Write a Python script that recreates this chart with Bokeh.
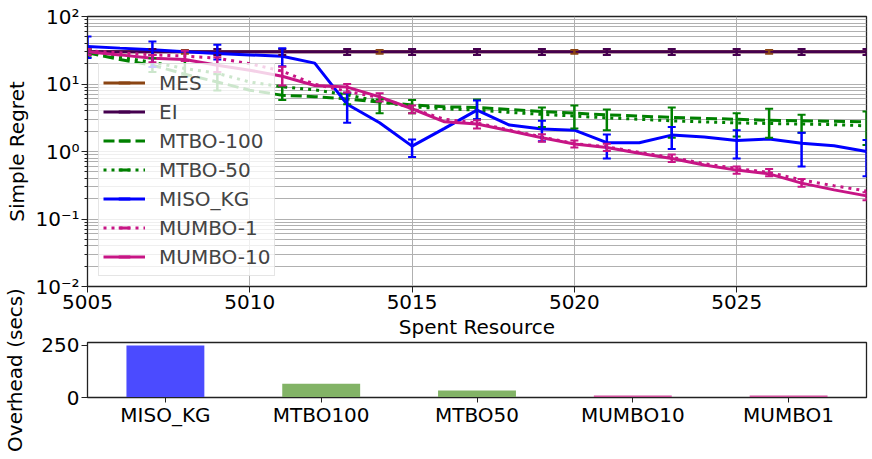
import math
from bokeh.plotting import figure
from bokeh.models import (ColumnDataSource, Whisker, TeeHead, Legend, LegendItem,
                          FixedTicker, Range1d, FactorRange)
from bokeh.layouts import column
from bokeh.embed import file_html
from bokeh.resources import INLINE

FONT = "DejaVu Sans"
FS = "20px"

# ---------------- data ----------------
steps = [5005, 5006, 5007, 5008, 5009, 5010, 5011, 5012, 5013, 5014, 5015, 5016, 5017,
         5018, 5019, 5020, 5021, 5022, 5023, 5024, 5025, 5026, 5027, 5028, 5029]

mes = [30.0, 30.0, 30.0, 30.0, 30.0, 30.0, 30.0, 30.0, 30.0, 30.0, 30.0, 30.0, 30.0,
       30.0, 30.0, 30.0, 30.0, 30.0, 30.0, 30.0, 30.0, 30.0, 30.0, 30.0, 30.0]
ei = [30.0, 30.0, 30.0, 30.0, 30.0, 30.0, 30.0, 30.0, 30.0, 30.0, 30.0, 30.0, 30.0,
      30.0, 30.0, 30.0, 30.0, 30.0, 30.0, 30.0, 30.0, 30.0, 30.0, 30.0, 30.0]
mtbo100 = [29, 23, 19, 14, 10.7, 8.1, 6.8, 6.5, 6.0, 5.4, 4.9, 4.6, 4.5,
           4.2, 3.9, 3.7, 3.5, 3.35, 3.2, 3.1, 3.0, 2.9, 2.85, 2.8, 2.75]
mtbo50 = [30, 25, 21, 17, 14.4, 10.7, 9.1, 8.2, 6.9, 5.5, 4.6, 4.3, 4.1,
          3.8, 3.55, 3.35, 3.15, 3.0, 2.85, 2.75, 2.65, 2.6, 2.55, 2.5, 2.4]
miso_kg = [36, 34, 32.3, 30, 28.3, 27, 25.7, 20.4, 5.0, 2.66, 1.2, 2.2, 4.1,
           2.46, 2.15, 2.07, 1.35, 1.35, 1.75, 1.64, 1.46, 1.53, 1.32, 1.22, 1.0]
mumbo1 = [31, 29, 27, 26, 24, 20, 15.5, 9.9, 7.8, 6.3, 4.3, 3.0, 2.65,
          2.08, 1.64, 1.31, 1.17, 0.97, 0.82, 0.66, 0.56, 0.49, 0.38, 0.31, 0.26]
mumbo10 = [30, 27, 24, 23, 19, 16, 13, 9.5, 9.0, 6.45, 4.3, 2.75, 2.55,
           2.03, 1.6, 1.29, 1.15, 0.94, 0.79, 0.63, 0.53, 0.466, 0.34, 0.27, 0.22]

odd_steps = [5005, 5007, 5009, 5011, 5013, 5015, 5017, 5019, 5021, 5023, 5025, 5027, 5029]
sixth_steps = [5008, 5014, 5020, 5026]

ei_lo = [27, 27, 27, 27, 27, 27, 27, 27, 27, 27, 27, 27, 27]
ei_hi = [33, 33, 33, 33, 33, 33, 33, 33, 33, 33, 33, 33, 33]
mes_lo = [28, 28, 28, 28]
mes_hi = [32, 32, 32, 32]
miso_lo = [24.3, 17.8, 23, 18.3, 2.66, 0.83, 3.0, 1.42, 0.79, 1.09, 0.79, 0.6, 0.43]
miso_hi = [50.7, 42.8, 38, 34, 7.4, 1.51, 5.7, 2.85, 1.79, 2.3, 2.07, 1.9, 1.48]
mtbo100_lo = [25, 15, 8, 5.8, 5.0, 3.7, 3.0, 2.3, 2.07, 1.6, 1.67, 1.9, 1.25]
mtbo100_hi = [33, 24, 14, 9.1, 7.2, 5.8, 5.9, 4.5, 4.2, 4.5, 3.7, 3.5, 3.9]
mtbo50_lo = [13, 3.7, 2.2, 1.6]
mtbo50_hi = [22, 5.9, 4.8, 4.3]
mumbo10_lo = [27, 21, 15, 9.5, 7.5, 3.7, 2.2, 1.4, 1.02, 0.7, 0.47, 0.3, 0.19]
mumbo10_hi = [33, 27, 25, 18, 10, 4.8, 2.9, 1.8, 1.3, 0.9, 0.6, 0.39, 0.25]
mumbo1_lo = [22, 5.5, 1.15, 0.43]
mumbo1_hi = [31, 7.3, 1.45, 0.55]

x_ticks = [5005, 5010, 5015, 5020, 5025]
y_ticks = [0.01, 0.1, 1, 10, 100]
y_tick_labels = ["10\u207b\u00b2", "10\u207b\u00b9", "10\u2070", "10\u00b9", "10\u00b2"]
y_minor = [0.02, 0.03, 0.04, 0.05, 0.06, 0.07, 0.08, 0.09,
           0.2, 0.3, 0.4, 0.5, 0.6, 0.7, 0.8, 0.9,
           2, 3, 4, 5, 6, 7, 8, 9,
           20, 30, 40, 50, 60, 70, 80, 90]

overhead_methods = ["MISO_KG", "MTBO100", "MTBO50", "MUMBO10", "MUMBO1"]
overhead_secs = [249, 66, 34, 9, 9]
overhead_colors = ["#4b4bff", "#82b366", "#82b366", "#d0509c", "#d0509c"]
overhead_ticks = [0, 250]

# ---------------- top figure ----------------
p = figure(width=872, height=341, x_range=Range1d(5005, 5029), y_range=Range1d(0.01, 100),
           y_axis_type="log", output_backend="svg", toolbar_location=None,
           min_border_left=84, min_border_right=6, min_border_top=16, min_border_bottom=54)

series = [
    ("MES", mes, "#8b4513", "solid", sixth_steps, mes_lo, mes_hi),
    ("EI", ei, "#45004f", "solid", odd_steps, ei_lo, ei_hi),
    ("MTBO-100", mtbo100, "#008000", "11 5", odd_steps, mtbo100_lo, mtbo100_hi),
    ("MTBO-50", mtbo50, "#008000", "3 5", sixth_steps, mtbo50_lo, mtbo50_hi),
    ("MISO_KG", miso_kg, "#0000ff", "solid", odd_steps, miso_lo, miso_hi),
    ("MUMBO-1", mumbo1, "#c71585", "3 5", sixth_steps, mumbo1_lo, mumbo1_hi),
    ("MUMBO-10", mumbo10, "#c71585", "solid", odd_steps, mumbo10_lo, mumbo10_hi),
]

items = []
for name, ys, color, dash, ex, lo, hi in series:
    r = p.line(steps, ys, line_color=color, line_width=3, line_dash=dash)
    src = ColumnDataSource(dict(base=ex, lower=lo, upper=hi))
    w = Whisker(base="base", lower="lower", upper="upper", source=src, dimension="height",
                line_color=color, line_width=2.5,
                upper_head=TeeHead(size=8, line_color=color, line_width=2),
                lower_head=TeeHead(size=8, line_color=color, line_width=2))
    w.level = "glyph"
    p.add_layout(w)
    tick = p.scatter(x=[float("nan")], y=[float("nan")], marker="dash", angle=math.pi / 2,
                     size=12, line_color=color, line_width=3)
    items.append(LegendItem(label=name, renderers=[r, tick]))

legend = Legend(items=items, location=(11, 10), label_text_font=FONT,
                label_text_font_size=FS, glyph_width=42, glyph_height=29,
                label_height=29, spacing=0, padding=4, margin=0, label_standoff=14,
                background_fill_alpha=0.8, border_line_color="#cccccc")
p.add_layout(legend)

p.xaxis.ticker = FixedTicker(ticks=x_ticks)
p.yaxis.ticker = FixedTicker(ticks=y_ticks, minor_ticks=y_minor)
p.yaxis.major_label_overrides = dict(zip(y_ticks, y_tick_labels))
p.xaxis.axis_label = "Spent Resource"
p.yaxis.axis_label = "Simple Regret"

for ax in [p.xaxis[0], p.yaxis[0]]:
    ax.axis_label_text_font = FONT
    ax.axis_label_text_font_size = FS
    ax.axis_label_text_font_style = "normal"
    ax.major_label_text_font = FONT
    ax.major_label_text_font_size = FS
    ax.axis_line_color = "#222222"
    ax.major_tick_line_color = "#222222"
    ax.minor_tick_line_color = "#222222"
    ax.major_tick_in = 0
    ax.major_tick_out = 6
    ax.minor_tick_in = 0
    ax.major_label_standoff = 2
    ax.axis_label_standoff = 3
    ax.axis_label_text_color = "black"
    ax.major_label_text_color = "black"
p.xaxis.minor_tick_out = 0
p.yaxis.minor_tick_out = 3

p.xgrid.grid_line_color = "#b0b0b0"
p.ygrid.grid_line_color = "#b0b0b0"
p.ygrid.minor_grid_line_color = "#b0b0b0"
p.outline_line_color = "#222222"
p.outline_line_width = 1.3

# ---------------- bottom figure (pulled up so its y label can overhang) ----------------
p2 = figure(width=872, height=170, x_range=FactorRange(*overhead_methods),
            y_range=Range1d(0, 263), output_backend="svg", toolbar_location=None,
            min_border_left=84, min_border_right=6, min_border_top=54, min_border_bottom=61,
            margin=(-53, 0, 0, 0))
p2.border_fill_color = None
bsrc = ColumnDataSource(dict(m=overhead_methods, v=overhead_secs, c=overhead_colors))
p2.vbar(x="m", top="v", width=0.5, fill_color="c", line_color=None, source=bsrc)
p2.grid.visible = False
p2.yaxis.ticker = FixedTicker(ticks=overhead_ticks)
p2.yaxis.axis_label = "Overhead (secs)"
for ax in [p2.xaxis[0], p2.yaxis[0]]:
    ax.axis_label_text_font = FONT
    ax.axis_label_text_font_size = FS
    ax.axis_label_text_font_style = "normal"
    ax.axis_label_text_color = "black"
    ax.major_label_text_font = FONT
    ax.major_label_text_font_size = FS
    ax.axis_line_color = "#222222"
    ax.major_tick_line_color = "#222222"
    ax.major_tick_in = 0
    ax.major_tick_out = 6
    ax.minor_tick_out = 0
    ax.major_label_standoff = 2
    ax.major_label_text_color = "black"
p2.yaxis.axis_label_standoff = 11
p2.xaxis.major_tick_out = 5
p2.xaxis.major_label_standoff = 0
p2.outline_line_color = "#222222"
p2.outline_line_width = 1.3

layout = column(p, p2)
open("out.html", "w").write(file_html(layout, INLINE))
